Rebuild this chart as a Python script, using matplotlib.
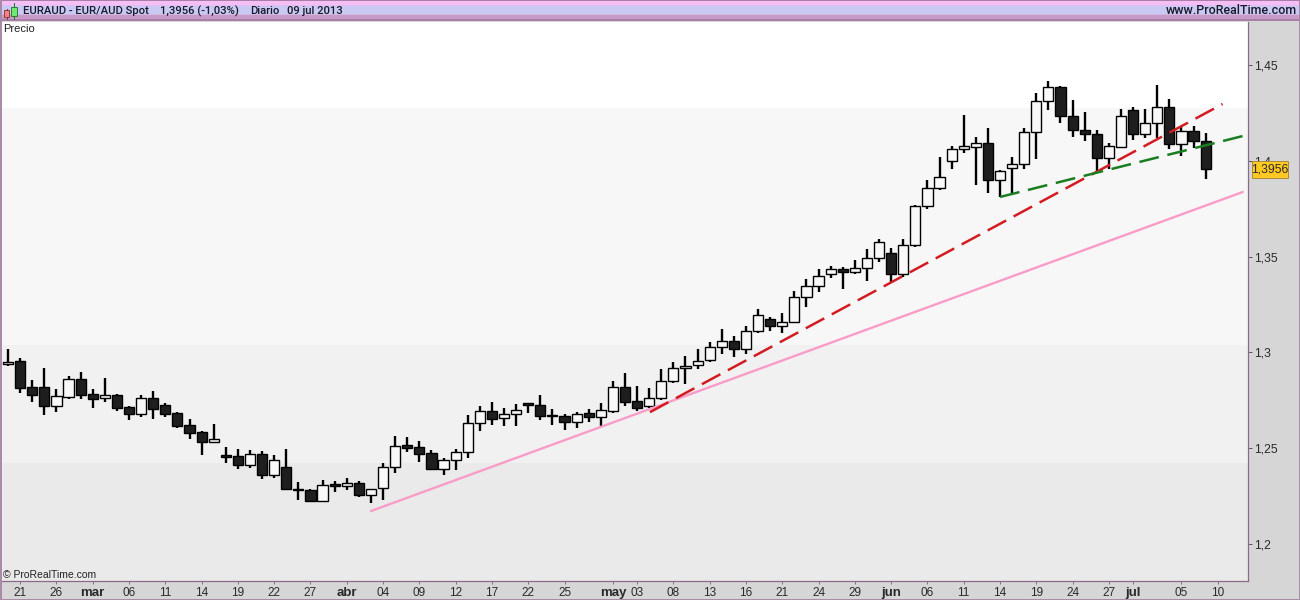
import numpy as np
import matplotlib
matplotlib.use("Agg")
import matplotlib.pyplot as plt
from matplotlib.patches import Rectangle

W, H = 1300, 600
plt.rcParams['font.family'] = ['Liberation Sans', 'DejaVu Sans']

highs = [1.3017,1.2970,1.2855,1.2918,1.2809,1.2876,1.2897,1.2809,1.2866,1.2782,
         1.2720,1.2777,1.2798,1.2735,1.2688,1.2652,1.2589,1.2626,1.2506,1.2495,
         1.2490,1.2485,1.2464,1.2495,1.2323,1.2286,1.2334,1.2328,1.2344,1.2328,
         1.2286,1.2422,1.2563,1.2558,1.2537,1.2490,1.2448,1.2495,1.2673,1.2720,
         1.2741,1.2709,1.2730,1.2735,1.2777,1.2704,1.2678,1.2688,1.2704,1.2735,
         1.2850,1.2892,1.2824,1.2814,1.2913,1.2949,1.2981,1.3017,1.3054,1.3122,
         1.3085,1.3137,1.3226,1.3184,1.3205,1.3320,1.3383,1.3435,1.3450,1.3445,
         1.3482,1.3539,1.3592,1.3544,1.3592,1.3769,1.3900,1.4020,1.4077,1.4239,
         1.4124,1.4171,1.3952,1.4020,1.4171,1.4354,1.4417,1.4390,1.4317,1.4255,
         1.4161,1.4093,1.4270,1.4281,1.4270,1.4396,1.4322,1.4176,1.4181,1.4145]
lows = [1.2928,1.2788,1.2741,1.2673,1.2688,1.2756,1.2756,1.2709,1.2741,1.2694,
        1.2647,1.2662,1.2652,1.2662,1.2605,1.2548,1.2464,1.2527,1.2422,1.2391,
        1.2396,1.2339,1.2344,1.2281,1.2229,1.2224,1.2224,1.2271,1.2281,1.2245,
        1.2213,1.2229,1.2370,1.2480,1.2427,1.2386,1.2360,1.2386,1.2448,1.2589,
        1.2621,1.2615,1.2615,1.2683,1.2647,1.2621,1.2594,1.2605,1.2636,1.2610,
        1.2683,1.2720,1.2694,1.2709,1.2751,1.2840,1.2835,1.2913,1.2949,1.2991,
        1.2975,1.2991,1.3101,1.3111,1.3101,1.3153,1.3237,1.3315,1.3388,1.3330,
        1.3409,1.3373,1.3471,1.3362,1.3393,1.3550,1.3748,1.3848,1.3957,1.4041,
        1.3874,1.3832,1.3811,1.3822,1.3957,1.4009,1.4265,1.4197,1.4124,1.4103,
        1.3942,1.3957,1.4067,1.4109,1.4119,1.4119,1.4061,1.4025,1.4067,1.3905]
opens = [1.2939,1.2955,1.2819,1.2819,1.2720,1.2767,1.2861,1.2782,1.2761,1.2777,
         1.2715,1.2678,1.2761,1.2725,1.2683,1.2621,1.2584,1.2532,1.2464,1.2459,
         1.2412,1.2469,1.2360,1.2401,1.2286,1.2281,1.2224,1.2313,1.2302,1.2318,
         1.2255,1.2292,1.2401,1.2516,1.2506,1.2474,1.2391,1.2438,1.2480,1.2631,
         1.2694,1.2657,1.2678,1.2735,1.2725,1.2673,1.2668,1.2636,1.2683,1.2662,
         1.2694,1.2819,1.2746,1.2720,1.2761,1.2850,1.2918,1.2934,1.2960,1.3028,
         1.3059,1.3017,1.3111,1.3174,1.3137,1.3158,1.3289,1.3346,1.3409,1.3435,
         1.3419,1.3440,1.3492,1.3518,1.3409,1.3560,1.3764,1.3858,1.3999,1.4061,
         1.4072,1.4093,1.3900,1.3962,1.3983,1.4150,1.4312,1.4385,1.4234,1.4161,
         1.4140,1.4015,1.4072,1.4265,1.4140,1.4197,1.4281,1.4088,1.4155,1.4103]
closes = [1.2952,1.2814,1.2777,1.2720,1.2772,1.2861,1.2777,1.2756,1.2777,1.2709,
          1.2678,1.2761,1.2704,1.2678,1.2615,1.2579,1.2532,1.2548,1.2453,1.2412,
          1.2469,1.2360,1.2438,1.2286,1.2281,1.2224,1.2307,1.2302,1.2318,1.2255,
          1.2286,1.2401,1.2511,1.2501,1.2469,1.2391,1.2438,1.2480,1.2631,1.2694,
          1.2652,1.2678,1.2699,1.2725,1.2668,1.2668,1.2636,1.2678,1.2662,1.2699,
          1.2819,1.2741,1.2709,1.2761,1.2850,1.2918,1.2928,1.2955,1.3028,1.3059,
          1.3017,1.3111,1.3195,1.3137,1.3158,1.3289,1.3346,1.3399,1.3435,1.3419,
          1.3440,1.3492,1.3576,1.3409,1.3560,1.3764,1.3858,1.3915,1.4061,1.4077,
          1.4093,1.3900,1.3947,1.3983,1.4150,1.4312,1.4385,1.4234,1.4161,1.4140,
          1.4015,1.4077,1.4234,1.4140,1.4197,1.4281,1.4088,1.4155,1.4103,1.3956]

date_labels = ['21','26','mar','06','11','14','19','22','27','abr','04','09','12','17','22','25',
               'may','03','08','13','16','21','24','29','jun','06','11','14','19','24','27','jul','05','10']
date_slots = [1,4,7,10,13,16,19,22,25,28,31,34,37,40,43,46,50,52,55,58,61,64,67,70,73,76,79,82,85,88,91,93,97,100]
month_labels = ['mar','abr','may','jun','jul']

price_ticks = [1.45,1.40,1.35,1.30,1.25,1.20]
price_labels = ['1,45','1,4','1,35','1,3','1,25','1,2']
band_edges = [1.1807,1.2423,1.3038,1.4276,1.4724]
band_colors = ['#eaeaea','#f1f1f1','#f7f7f7','#ffffff']

pink_x, pink_y = [30.0,102.07], [1.2172,1.3837]
red_x, red_y = [53.06,100.4], [1.2688,1.4296]
green_x, green_y = [82.0,102.07], [1.3811,1.4129]
last_price = 1.3956

fig = plt.figure(figsize=(W/100, H/100), dpi=100, facecolor='#d6d6d6')
def box(l, t, r, b):
    return [l/W, 1-b/H, (r-l)/W, (b-t)/H]

ax = fig.add_axes(box(2, 22, 1248, 581))
ax.set_xlim(-0.5, 102.5)
ax.set_ylim(band_edges[0], band_edges[-1])
for k, c in enumerate(band_colors):
    ax.axhspan(band_edges[k], band_edges[k+1], color=c, lw=0, zorder=0)

x = np.arange(len(closes))
o, c_, h, l = map(np.array, (opens, closes, highs, lows))
up = c_ >= o
ax.vlines(x, l, h, color='#000000', lw=1.7, zorder=3)
ax.bar(x[up], (c_-o)[up], bottom=o[up], width=0.84, facecolor='#f8f8f8', edgecolor='#000000', lw=1.0, zorder=4)
ax.bar(x[~up], (c_-o)[~up], bottom=o[~up], width=0.84, facecolor='#1e1e1e', edgecolor='#000000', lw=1.0, zorder=4)

ax.plot(pink_x, pink_y, color='#fa9cc8', lw=1.7, zorder=5, solid_capstyle='round')
ax.plot(red_x, red_y, color='#d21c22', lw=1.8, zorder=5, dashes=(8.4, 3.4))
ax.plot(green_x, green_y, color='#1b7d22', lw=1.8, zorder=5, dashes=(8.0, 3.5))

for s in ax.spines.values():
    s.set_color('#8a6a8a'); s.set_linewidth(0.9)
ax.spines['top'].set_visible(False)
ax.spines['left'].set_visible(False)

ax.yaxis.tick_right()
ax.set_yticks(price_ticks, price_labels)
ax.tick_params(axis='y', length=3, width=0.7, color='#555555', labelsize=8.7, labelcolor='#2a2a2a', pad=1.5)
ax.set_xticks([float(s) for s in date_slots], date_labels)
ax.tick_params(axis='x', length=2.5, width=0.7, color='#8a6a8a', direction='out', labelsize=8.5, labelcolor='#2a2a2a', pad=1.5)
for t, s in zip(ax.get_xticklabels(), date_labels):
    if s in month_labels:
        t.set_fontweight('bold')
        t.set_fontsize(9.5)

# last price tag
fig.add_artist(Rectangle((1252/W, 1-178/H), 36/W, 17/H, transform=fig.transFigure, fc='#ffc822', ec='#a88a3a', lw=0.7, zorder=8))
fig.text(1270/W, 1-170/H, f"{last_price:.4f}".replace('.', ','), ha='center', va='center',
         fontsize=8.7, color='#2a2a2a', zorder=9)
fig.text(3/W, 1-28.5/H, 'Precio', fontsize=8, color='#222222', ha='left', va='center')
fig.text(3/W, 1-575/H, '© ProRealTime.com', fontsize=7.5, color='#222222', ha='left', va='center')

# header gradient, one row per pixel
hdr = fig.add_axes(box(0, 0, W, 21))
row_colors = ['#a97fa9'] + ['#f5bff5']*4 + ['#dcc0f2'] + ['#c9c9f4']*8 + ['#d0b8e0'] + ['#c79ac7']*4 + ['#a97fa9']*2
stops = np.array([matplotlib.colors.to_rgb(c) for c in row_colors])
hdr.imshow(stops[:, None, :], aspect='auto', interpolation='nearest', extent=(0, W, 21, 0))
hdr.set_xlim(0, W); hdr.set_ylim(21, 0); hdr.axis('off')
hdr.plot([6.5, 6.5], [9, 19], color='#803030', lw=0.7)
hdr.add_patch(Rectangle((4, 10), 5, 7, fc='#f88080', ec='#803030', lw=0.6, zorder=3))
hdr.plot([14, 14], [3, 19], color='#207020', lw=0.7)
hdr.add_patch(Rectangle((11, 7), 6, 9, fc='#70e870', ec='#207020', lw=0.6, zorder=3))
title_bits = [(23, 'EURAUD - EUR/AUD Spot'), (160, '1,3956 (-1,03%)'), (250, 'Diario'), (287, '09 jul 2013')]
for px, s in title_bits:
    hdr.text(px, 11, s, fontsize=8.1, family='Roboto', fontweight='medium', color='#1a1a2a', ha='left', va='center')
hdr.text(1297, 11, 'www.ProRealTime.com', fontsize=9.0, family='Roboto', fontweight='medium', color='#1a1a2a', ha='right', va='center')

# window border
border = '#a98aa9'
fig.add_artist(Rectangle((0, 0), 2/W, 1, transform=fig.transFigure, fc=border, ec='none'))
fig.add_artist(Rectangle((1-1/W, 0), 1/W, 1, transform=fig.transFigure, fc=border, ec='none'))
fig.add_artist(Rectangle((0, 0), 1, 1.5/H, transform=fig.transFigure, fc=border, ec='none'))
fig.savefig('out.png', dpi=100, facecolor=fig.get_facecolor())
